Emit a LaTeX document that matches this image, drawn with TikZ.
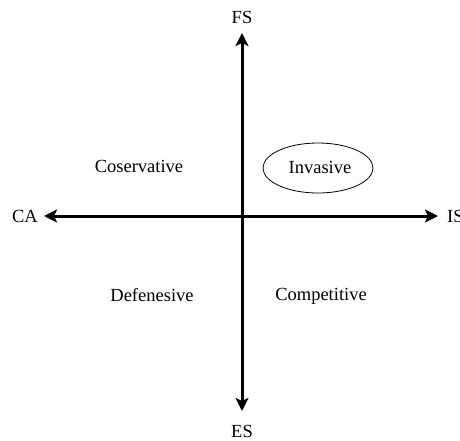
\documentclass[tikz,border=0pt]{standalone}
\usepackage{fontspec}
\setmainfont{Liberation Serif}
\usetikzlibrary{arrows.meta,shapes.geometric}
\begin{document}
\begin{tikzpicture}[x=1pt,y=-1pt,
  lbl/.style={inner sep=0pt,font=\fontsize{18.5}{21}\selectfont},
  axis/.style={line width=3pt,{Stealth[length=13pt,width=13pt,inset=3pt]}-{Stealth[length=13pt,width=13pt,inset=3pt]}},
  oval/.style={draw,line width=0.8pt,ellipse,minimum width=110pt,minimum height=50pt,inner sep=0pt}]
\useasboundingbox (0,0) rectangle (460,440);
\coordinate (top) at (242,33);
\coordinate (bot) at (242,411);
\coordinate (lft) at (44,216);
\coordinate (rgt) at (438,216);
\draw[axis] (bot) -- (top);
\draw[axis] (lft) -- (rgt);
\node[lbl] (fs) at (242,17) {FS};
\node[lbl] (es) at (242,431) {ES};
\node[lbl] (ca) at (25,216) {CA};
\node[lbl,anchor=west] (is) at (447,216) {IS};
\node[lbl] (cons) at (139,166) {Coservative};
\node[oval] (inv) at (318,168) {};
\node[lbl] (invt) at (320,167) {Invasive};
\node[lbl] (def) at (152,295) {Defenesive};
\node[lbl] (comp) at (321,296) {Competitive};
\end{tikzpicture}
\end{document}
